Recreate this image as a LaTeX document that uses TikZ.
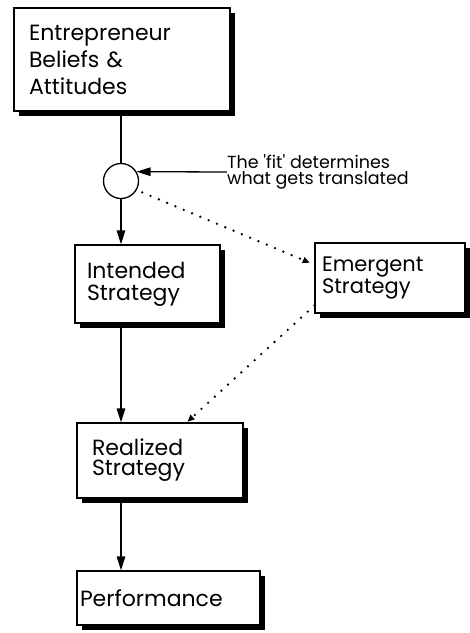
\documentclass[tikz,border=0pt]{standalone}
\usepackage{fontspec}
\setmainfont{Poppins}
\usetikzlibrary{arrows.meta,shadows,calc}
\begin{document}
\begin{tikzpicture}[x=1pt,y=-1pt,
  box/.style={draw, line width=1.3pt, fill=white, rectangle, align=left, inner ysep=0pt,
    drop shadow={shadow xshift=5pt, shadow yshift=-5pt, opacity=1, fill=black}},
  conn/.style={line width=1.3pt},
  arr/.style={line width=1.3pt, -{Triangle[length=14pt,width=8.5pt]}},
  dots/.style={line width=2.6pt, dash pattern=on 0pt off 9pt, line cap=round, -{Triangle[length=7pt,width=6pt]}}]
\useasboundingbox (0,0) rectangle (470,633);

\node[box, minimum width=216pt, minimum height=103pt, text width=186pt, inner xsep=15pt,
  font=\fontsize{22}{27}\selectfont] (ent) at (122,59.5) {Entrepreneur\\Beliefs \&\\Attitudes};
\node[box, minimum width=145pt, minimum height=78pt, text width=121pt, inner xsep=12pt,
  font=\fontsize{22}{22}\selectfont] (int) at (147.5,284) {Intended\\Strategy};
\node[box, minimum width=150pt, minimum height=70pt, text width=136pt, inner xsep=7pt,
  font=\fontsize{21}{18}\selectfont] (em) at (390,278) {Emergent\\Strategy};
\node[box, minimum width=166pt, minimum height=75pt, text width=136pt, inner xsep=15pt,
  font=\fontsize{22}{20}\selectfont] (real) at (160,460.5) {Realized\\Strategy};
\node[box, minimum width=183pt, minimum height=54pt, text width=177pt, inner xsep=3pt,
  font=\fontsize{22}{22}\selectfont] (perf) at (168.5,598) {Performance};

\node[circle, draw, line width=1.3pt, minimum size=35pt, inner sep=0pt] (fit) at (121,181) {};

\node[anchor=west, align=left, inner sep=0pt, font=\fontsize{17.5}{16.5}\selectfont] (note) at (227,172)
  {The \textquotesingle fit\textquotesingle{} determines\\what gets translated};

\draw[conn] (ent.south -| fit) -- (fit.north);
\draw[arr] (fit.south) -- (fit.south |- int.north);
\draw[arr] (fit |- int.south) -- (fit |- real.north);
\draw[arr] (fit |- real.south) -- (fit |- perf.north);
\draw[arr] (note.west) -- (fit.31);
\draw[dots, shorten <=6pt, shorten >=5pt] (fit.-30) -- (em.170);
\draw[dots, shorten >=1pt] (em.200) -- ($(real.north west)!0.66!(real.north east)$);
\end{tikzpicture}
\end{document}
